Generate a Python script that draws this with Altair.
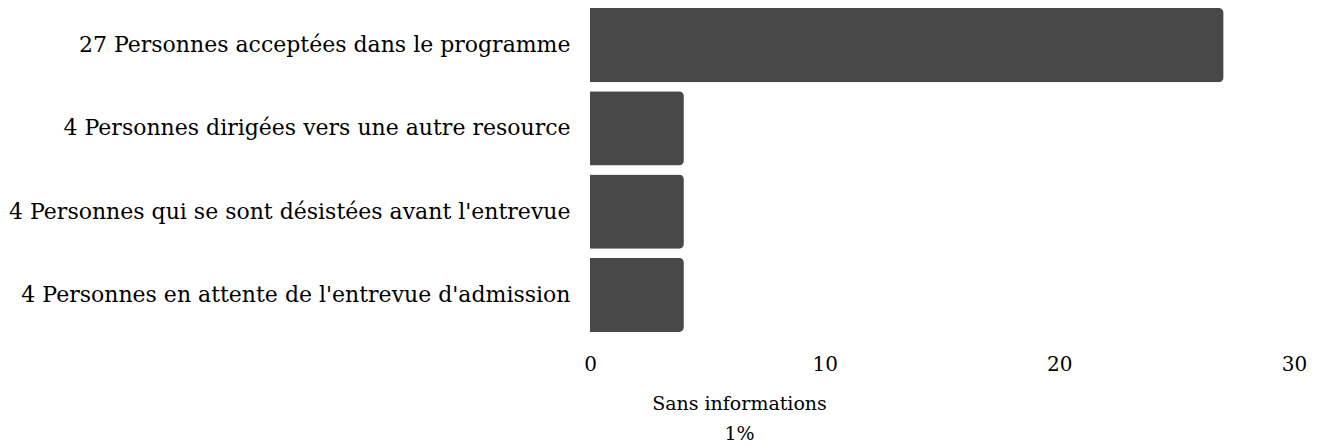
import altair as alt
import pandas as pd

categories = [
    "27 Personnes acceptées dans le programme",
    "4 Personnes dirigées vers une autre resource",
    "4 Personnes qui se sont désistées avant l'entrevue",
    "4 Personnes en attente de l'entrevue d'admission",
]
values = [27, 4, 4, 4]
x_ticks = [0, 10, 20, 30]

df = pd.DataFrame({"cat": categories, "val": values})
FONT = "DejaVu Serif"

chart = alt.Chart(df).mark_bar(color="#484848", cornerRadiusEnd=5).encode(
    x=alt.X("val:Q", scale=alt.Scale(domain=[0, 30], nice=False),
            axis=alt.Axis(values=x_ticks, grid=False, domain=False, ticks=False,
                          labelPadding=22, labelFontSize=20, labelFont=FONT, labelColor="#000",
                          title=["Sans informations", "1%"], titleFont=FONT, titleFontSize=19,
                          titleFontWeight="normal", titleColor="#000", titlePadding=20,
                          titleLineHeight=30, titleX=149, titleAlign="center",
                          labelFlush=False)),
    y=alt.Y("cat:N", sort=categories, scale=alt.Scale(paddingInner=0.11, paddingOuter=0),
            axis=alt.Axis(grid=False, domain=False, ticks=False, title=None,
                          labelFont=FONT, labelFontSize=22, labelColor="#000",
                          labelPadding=20, labelLimit=700, minExtent=582, maxExtent=582)),
).properties(width=704, height=324, padding=0).configure_view(stroke=None)

chart.save("out.html", embed_options={"renderer": "svg", "actions": False})
